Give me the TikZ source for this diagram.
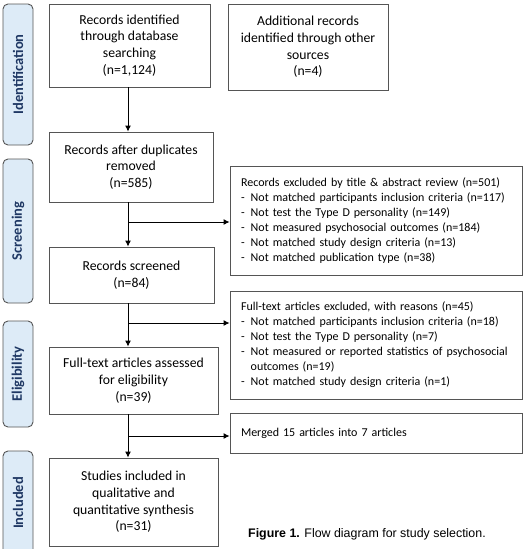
\documentclass[tikz,border=0pt]{standalone}
\usepackage{fontspec}
\setmainfont{Carlito}
\newfontfamily\capfont{Liberation Sans}
\usetikzlibrary{arrows.meta,positioning}

\definecolor{barfill}{HTML}{DDEBF7}
\definecolor{bartext}{HTML}{1F3864}
\definecolor{boxline}{HTML}{555555}

\tikzset{
  stage/.style={draw=boxline, line width=0.9pt, fill=barfill, rounded corners=5pt,
    rotate=90, minimum height=30pt, inner sep=0pt, text=bartext,
    font=\fontsize{14.5}{16}\selectfont\bfseries},
  mainbox/.style={draw=boxline, line width=0.9pt, align=center, inner sep=2pt,
    font=\fontsize{13.7}{16.7}\selectfont},
  sidebox/.style={draw=boxline, line width=0.9pt, align=left, inner xsep=11pt,
    inner ysep=2pt, text width=270pt, font=\fontsize{12}{15}\selectfont},
  flow/.style={line width=0.9pt, -{Latex[length=6pt,width=6pt]}},
}

\begin{document}
\begin{tikzpicture}[x=1pt,y=-1pt]
    \useasboundingbox (0,0) rectangle (527,549);
    % Stages
    \node[stage, minimum width=141pt] (sid) at (18,74.5) {Identification} ; %
    \node[stage, minimum width=144pt] (sscr) at (18,231) {Screening} ; %
    \node[stage, minimum width=106pt] (selig) at (18,374) {Eligibility} ; %
    \node[stage, minimum width=104pt] (sinc) at (18,503) {Included} ; %
    % Nodes
    \node[mainbox, minimum width=161pt, minimum height=83pt] (ident) at (129.5,45.5)
      {Records identified\\through database\\searching\\(n=1,124)} ; %
    \node[mainbox, minimum width=160pt, minimum height=86pt] (other) at (308,47)
      {Additional records\\identified through other\\sources\\(n=4)} ; %
    \node[mainbox, minimum width=164pt, minimum height=70pt] (dup) at (131,167)
      {Records after duplicates\\removed\\(n=585)} ; %
    \node[mainbox, minimum width=165pt, minimum height=56pt] (screened) at (131.5,275)
      {Records screened\\(n=84)} ; %
    \node[mainbox, minimum width=169pt, minimum height=67pt] (assessed) at (133.5,380.5)
      {Full-text articles assessed\\for eligibility\\(n=39)} ; %
    \node[mainbox, minimum width=169pt, minimum height=88pt] (included) at (133.5,502)
      {Studies included in\\qualitative and\\quantitative synthesis\\(n=31)} ; %
    \node[sidebox, minimum height=109pt] (excl1) at (376,220.5)
      {Records excluded by title \& abstract review (n=501)\\
       -\enspace Not matched participants inclusion criteria (n=117)\\
       -\enspace Not test the Type D personality (n=149)\\
       -\enspace Not measured psychosocial outcomes (n=184)\\
       -\enspace Not matched study design criteria (n=13)\\
       -\enspace Not matched publication type (n=38)} ; %
    \node[sidebox, minimum height=108pt] (excl2) at (376,345)
      {Full-text articles excluded, with reasons (n=45)\\
       -\enspace Not matched participants inclusion criteria (n=18)\\
       -\enspace Not test the Type D personality (n=7)\\
       -\enspace Not measured or reported statistics of psychosocial\\
       \phantom{-\enspace}outcomes (n=19)\\
       -\enspace Not matched study design criteria (n=1)} ; %
    \node[sidebox, minimum height=40pt] (merged) at (376,433)
      {Merged 15 articles into 7 articles} ; %
    \node[font=\capfont\fontsize{12.4}{14}\selectfont, anchor=west, inner sep=0pt] (caption) at (248,534)
      {\textbf{Figure 1.} Flow diagram for study selection.} ; %
    % Spine and branches
    \coordinate (spine) at (128,0) ; %
    \coordinate (b1) at (128,222) ; %
    \coordinate (b2) at (128,323) ; %
    \coordinate (b3) at (128,436) ; %
    \draw[flow] (ident.south -| spine) -- (dup.north -| spine) ; %
    \draw[flow] (dup.south -| spine) -- (screened.north -| spine) ; %
    \draw[flow] (screened.south -| spine) -- (assessed.north -| spine) ; %
    \draw[flow] (assessed.south -| spine) -- (included.north -| spine) ; %
    \draw[flow] (b1) -- (b1 -| excl1.west) ; %
    \draw[flow] (b2) -- (b2 -| excl2.west) ; %
    \draw[flow] (b3) -- (b3 -| merged.west) ; %
\end{tikzpicture}
\end{document}
